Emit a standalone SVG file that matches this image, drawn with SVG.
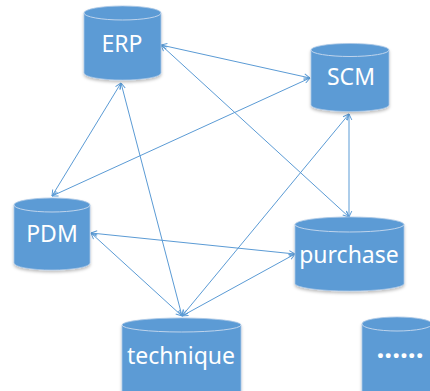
<svg xmlns="http://www.w3.org/2000/svg" width="430" height="391" viewBox="0 0 430 391">
<style>
.cyl{fill:#5B9BD5;stroke:#A9C6E6;stroke-width:0.8;filter:url(#sh)}
.rim{fill:none;stroke:#BFD4EC;stroke-width:1}
.lbl{font-family:"Noto Sans","Open Sans",sans-serif;font-size:23px;fill:#FFFFFF;text-anchor:middle}
.con line{stroke:#5B9BD5;stroke-width:1;marker-start:url(#arr);marker-end:url(#arr)}
</style>
<defs>
<filter id="sh" x="-10%" y="-10%" width="120%" height="130%">
<feDropShadow dx="0" dy="2" stdDeviation="1.5" flood-color="#000" flood-opacity="0.25"/>
</filter>
<marker id="arr" viewBox="0 0 10 10" refX="9.5" refY="5" markerWidth="7" markerHeight="7" orient="auto-start-reverse" markerUnits="userSpaceOnUse">
<path d="M1,1 L9.5,5 L1,9" fill="none" stroke="#5B9BD5" stroke-width="1.4"/>
</marker>
</defs>
<rect width="430" height="391" fill="#FFFFFF"/>
<g id="connectors" class="con">
<line x1="161" y1="45" x2="310" y2="78"/>
<line x1="161" y1="45" x2="349" y2="217"/>
<line x1="121" y1="83" x2="52" y2="196"/>
<line x1="121" y1="83" x2="182" y2="316"/>
<line x1="310" y1="78" x2="52" y2="196"/>
<line x1="349" y1="114" x2="349" y2="217"/>
<line x1="349" y1="114" x2="182" y2="316"/>
<line x1="91" y1="233" x2="295" y2="254"/>
<line x1="91" y1="233" x2="182" y2="316"/>
<line x1="295" y1="254" x2="182" y2="316"/>
</g>
<g id="ERP">
<path class="cyl" d="M84,13 A38.5,7 0 0 1 161,13 V73 A38.5,7 0 0 1 84,73 Z"/>
<path class="rim" d="M84,13 A38.5,7 0 0 0 161,13"/>
<text class="lbl" x="122" y="52">ERP</text>
</g>
<g id="SCM">
<path class="cyl" d="M311,50 A39,6.5 0 0 1 389,50 V105 A39,6.5 0 0 1 311,105 Z"/>
<path class="rim" d="M311,50 A39,6.5 0 0 0 389,50"/>
<text class="lbl" x="351" y="85">SCM</text>
</g>
<g id="PDM">
<path class="cyl" d="M14,205 A38,7 0 0 1 90,205 V263 A38,7 0 0 1 14,263 Z"/>
<path class="rim" d="M14,205 A38,7 0 0 0 90,205"/>
<text class="lbl" x="52" y="242">PDM</text>
</g>
<g id="purchase">
<path class="cyl" d="M295,224.5 A54.5,7.5 0 0 1 404,224.5 V283.5 A54.5,7.5 0 0 1 295,283.5 Z"/>
<path class="rim" d="M295,224.5 A54.5,7.5 0 0 0 404,224.5"/>
<text class="lbl" x="349" y="263">purchase</text>
</g>
<g id="technique">
<path class="cyl" d="M122,325 A59.5,7 0 0 1 241,325 V392 A59.5,7 0 0 1 122,392 Z"/>
<path class="rim" d="M122,325 A59.5,7 0 0 0 241,325"/>
<text class="lbl" x="181" y="364">technique</text>
</g>
<g id="more">
<path class="cyl" d="M362,324 A35,7 0 0 1 432,324 V392 A35,7 0 0 1 362,392 Z"/>
<path class="rim" d="M362,324 A35,7 0 0 0 432,324"/>
<text class="lbl" x="400" y="358" style="font-size:28px;font-weight:bold">......</text>
</g>
</svg>
